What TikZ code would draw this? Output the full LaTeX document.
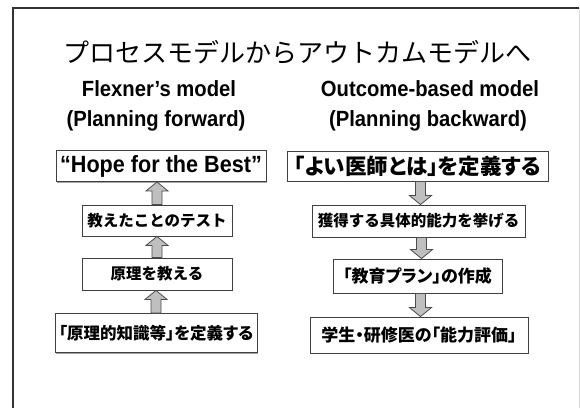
\documentclass[tikz,border=0pt]{standalone}
\usepackage{fontspec}
\setmainfont{Liberation Sans}
\newfontfamily\subfont{Liberation Sans}[FakeStretch=0.92]
\newfontfamily\jp{Noto Sans CJK JP}
\newfontfamily\jpp{Noto Sans CJK JP}[RawFeature=+palt]
\usetikzlibrary{calc,shadows}
\tikzset{
  box/.style={draw=black!75, line width=0.9pt, fill=white, inner sep=0pt, align=center,
    drop shadow={shadow xshift=1.2pt, shadow yshift=-1.2pt, fill=black!35, opacity=1}},
  blockarrow/.style={draw=black!70, line width=0.8pt, fill=black!25, line join=miter},
  sub/.style={font=\subfont\fontsize{22}{24}\selectfont\bfseries},
  jpsmall/.style={font=\jp\bfseries\fontsize{15.5}{17}\selectfont},
  jpprop/.style={font=\jpp\bfseries\fontsize{16.5}{18}\selectfont},
}
\newcommand{\blkarrow}[2]{%
  \path[blockarrow] let \p1=(#1), \p2=(#2), \n1={\y2>\y1?1:-1} in
    (\x1-5pt,\y1) -- (\x1-5pt,\y2-\n1*9pt) -- (\x1-11pt,\y2-\n1*9pt) -- (\x1,\y2)
    -- (\x1+11pt,\y2-\n1*9pt) -- (\x1+5pt,\y2-\n1*9pt) -- (\x1+5pt,\y1) -- cycle;}
\begin{document}
\begin{tikzpicture}[x=1pt,y=-1pt]
\useasboundingbox (0,0) rectangle (580,408);
\fill[white] (0,0) rectangle (580,408);
% frame
\draw[black!15, line width=1pt] (579,8) -- (579,408);
\draw[black!80, line width=1.5pt] (13,408) -- (13,8) -- (579,8);
% title
\node (title) at (297,52) {\jp\fontsize{26}{28}\selectfont プロセスモデルからアウトカムモデルへ};
\node[sub] (lsub1) at (159,89) {Flexner’s model};
\node[sub] (lsub2) at (156,121) {(Planning forward)};
\node[sub] (rsub1) at (430,89) {Outcome-based model};
\node[sub] (rsub2) at (428,121) {(Planning backward)};
% left boxes
\node[box, minimum width=210pt, minimum height=31pt, font=\subfont\fontsize{23.5}{25}\selectfont\bfseries] (L1) at (161,166) {“Hope for the Best”};
\node[box, minimum width=150pt, minimum height=31pt, jpsmall] (L2) at (157,220.5) {教えたことのテスト};
\node[box, minimum width=150pt, minimum height=32pt, jpsmall] (L3) at (157,274) {原理を教える};
\node[box, minimum width=202pt, minimum height=39pt, jpprop] (L4) at (156,333) {「原理的知識等」を定義する};
\blkarrow{L2.north}{L1.south}
\blkarrow{L3.north}{L2.north |- L2.south}
\blkarrow{L4.north}{L4.north |- L3.south}
% right boxes
\node[box, minimum width=261pt, minimum height=30pt, font=\jpp\bfseries\fontsize{21.5}{23}\selectfont] (R1) at (417.5,166) {「よい医師とは」を定義する};
\node[box, minimum width=213pt, minimum height=32pt, jpsmall] (R2) at (418.5,221) {獲得する具体的能力を挙げる};
\node[box, minimum width=169pt, minimum height=34pt, font=\jpp\bfseries\fontsize{17}{18}\selectfont] (R3) at (417.5,276) {「教育プラン」の作成};
\node[box, minimum width=218pt, minimum height=36pt, font=\jpp\bfseries\fontsize{17}{18}\selectfont] (R4) at (419,335) {学生・研修医の「能力評価」};
\blkarrow{[xshift=3pt]R1.south}{[xshift=3pt]R1.south |- R2.north}
\blkarrow{[xshift=3pt]R2.south}{[xshift=3pt]R2.south |- R3.north}
\blkarrow{[xshift=3pt]R3.south}{[xshift=3pt]R3.south |- R4.north}
\end{tikzpicture}
\end{document}
